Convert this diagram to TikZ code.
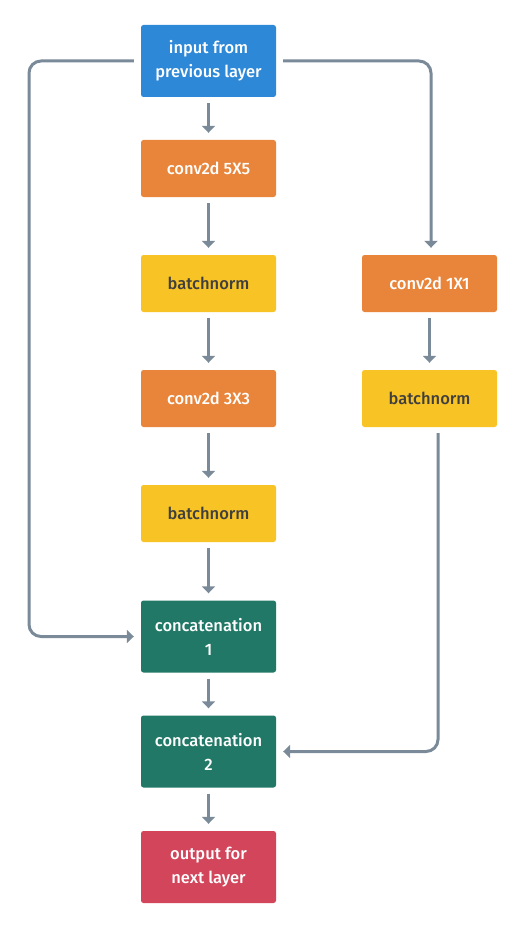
\documentclass[tikz,border=0pt]{standalone}
\usepackage{fontspec}
\setmainfont{Fira Sans}[UprightFont=* Medium,BoldFont=* SemiBold]
\usetikzlibrary{arrows.meta}
\definecolor{cblue}{HTML}{2D88D8}
\definecolor{corange}{HTML}{E8853B}
\definecolor{cyellow}{HTML}{F7C325}
\definecolor{cgreen}{HTML}{217867}
\definecolor{cred}{HTML}{D2455A}
\definecolor{cline}{HTML}{7A8A99}
\definecolor{cdark}{HTML}{3F3F3F}
\begin{document}
\begin{tikzpicture}[x=1pt,y=-1pt,
  box/.style={rectangle,rounded corners=2.5pt,minimum width=135pt,align=center,inner sep=0pt,font=\fontsize{16.5}{24}\selectfont},
  tall/.style={box,minimum height=72pt},
  short/.style={box,minimum height=57pt},
  bluebox/.style={tall,fill=cblue,text=white},
  orangebox/.style={short,fill=corange,text=white},
  yellowbox/.style={short,fill=cyellow,text=cdark},
  greenbox/.style={tall,fill=cgreen,text=white},
  redbox/.style={tall,fill=cred,text=white},
  conn/.style={draw=cline,line width=3pt,-{Triangle[length=7pt,width=13pt]},rounded corners=12pt}]
\useasboundingbox (0,0) rectangle (524,928);
\fill[white] (0,0) rectangle (524,928);
\node[bluebox]   (in)  at (208.5,61)  {input from\\previous layer};
\node[orangebox] (c5)  at (208.5,168.5) {conv2d 5X5};
\node[yellowbox] (b1)  at (208.5,283.5) {batchnorm};
\node[orangebox] (c3)  at (208.5,398.5) {conv2d 3X3};
\node[yellowbox] (b2)  at (208.5,513.5) {batchnorm};
\node[greenbox]  (k1)  at (208.5,636.5) {concatenation\\1};
\node[greenbox]  (k2)  at (208.5,751.5) {concatenation\\2};
\node[redbox]    (out) at (208.5,867)   {output for\\next layer};
\node[orangebox] (c1)  at (429.5,283.5) {conv2d 1X1};
\node[yellowbox] (b3)  at (429.5,398.5) {batchnorm};
\foreach \a/\b in {in/c5,c5/b1,b1/c3,c3/b2,b2/k1,k1/k2,k2/out,c1/b3}
  \draw[conn,shorten <=6pt,shorten >=7pt] (\a) -- (\b);
\coordinate (l1) at (29,61);
\coordinate (l2) at (29,636.5);
\draw[conn,shorten <=7pt,shorten >=7pt] (in.west) -- (l1) -- (l2) -- (k1.west);
\coordinate (r1) at (431,61);
\draw[conn,shorten <=7pt,shorten >=7pt] (in.east) -- (r1) -- (c1.north -| r1);
\coordinate (r2) at (438,426);
\coordinate (r3) at (438,751.5);
\draw[conn,shorten <=7pt,shorten >=7pt] (r2) -- (r3) -- (k2.east);
\end{tikzpicture}
\end{document}
